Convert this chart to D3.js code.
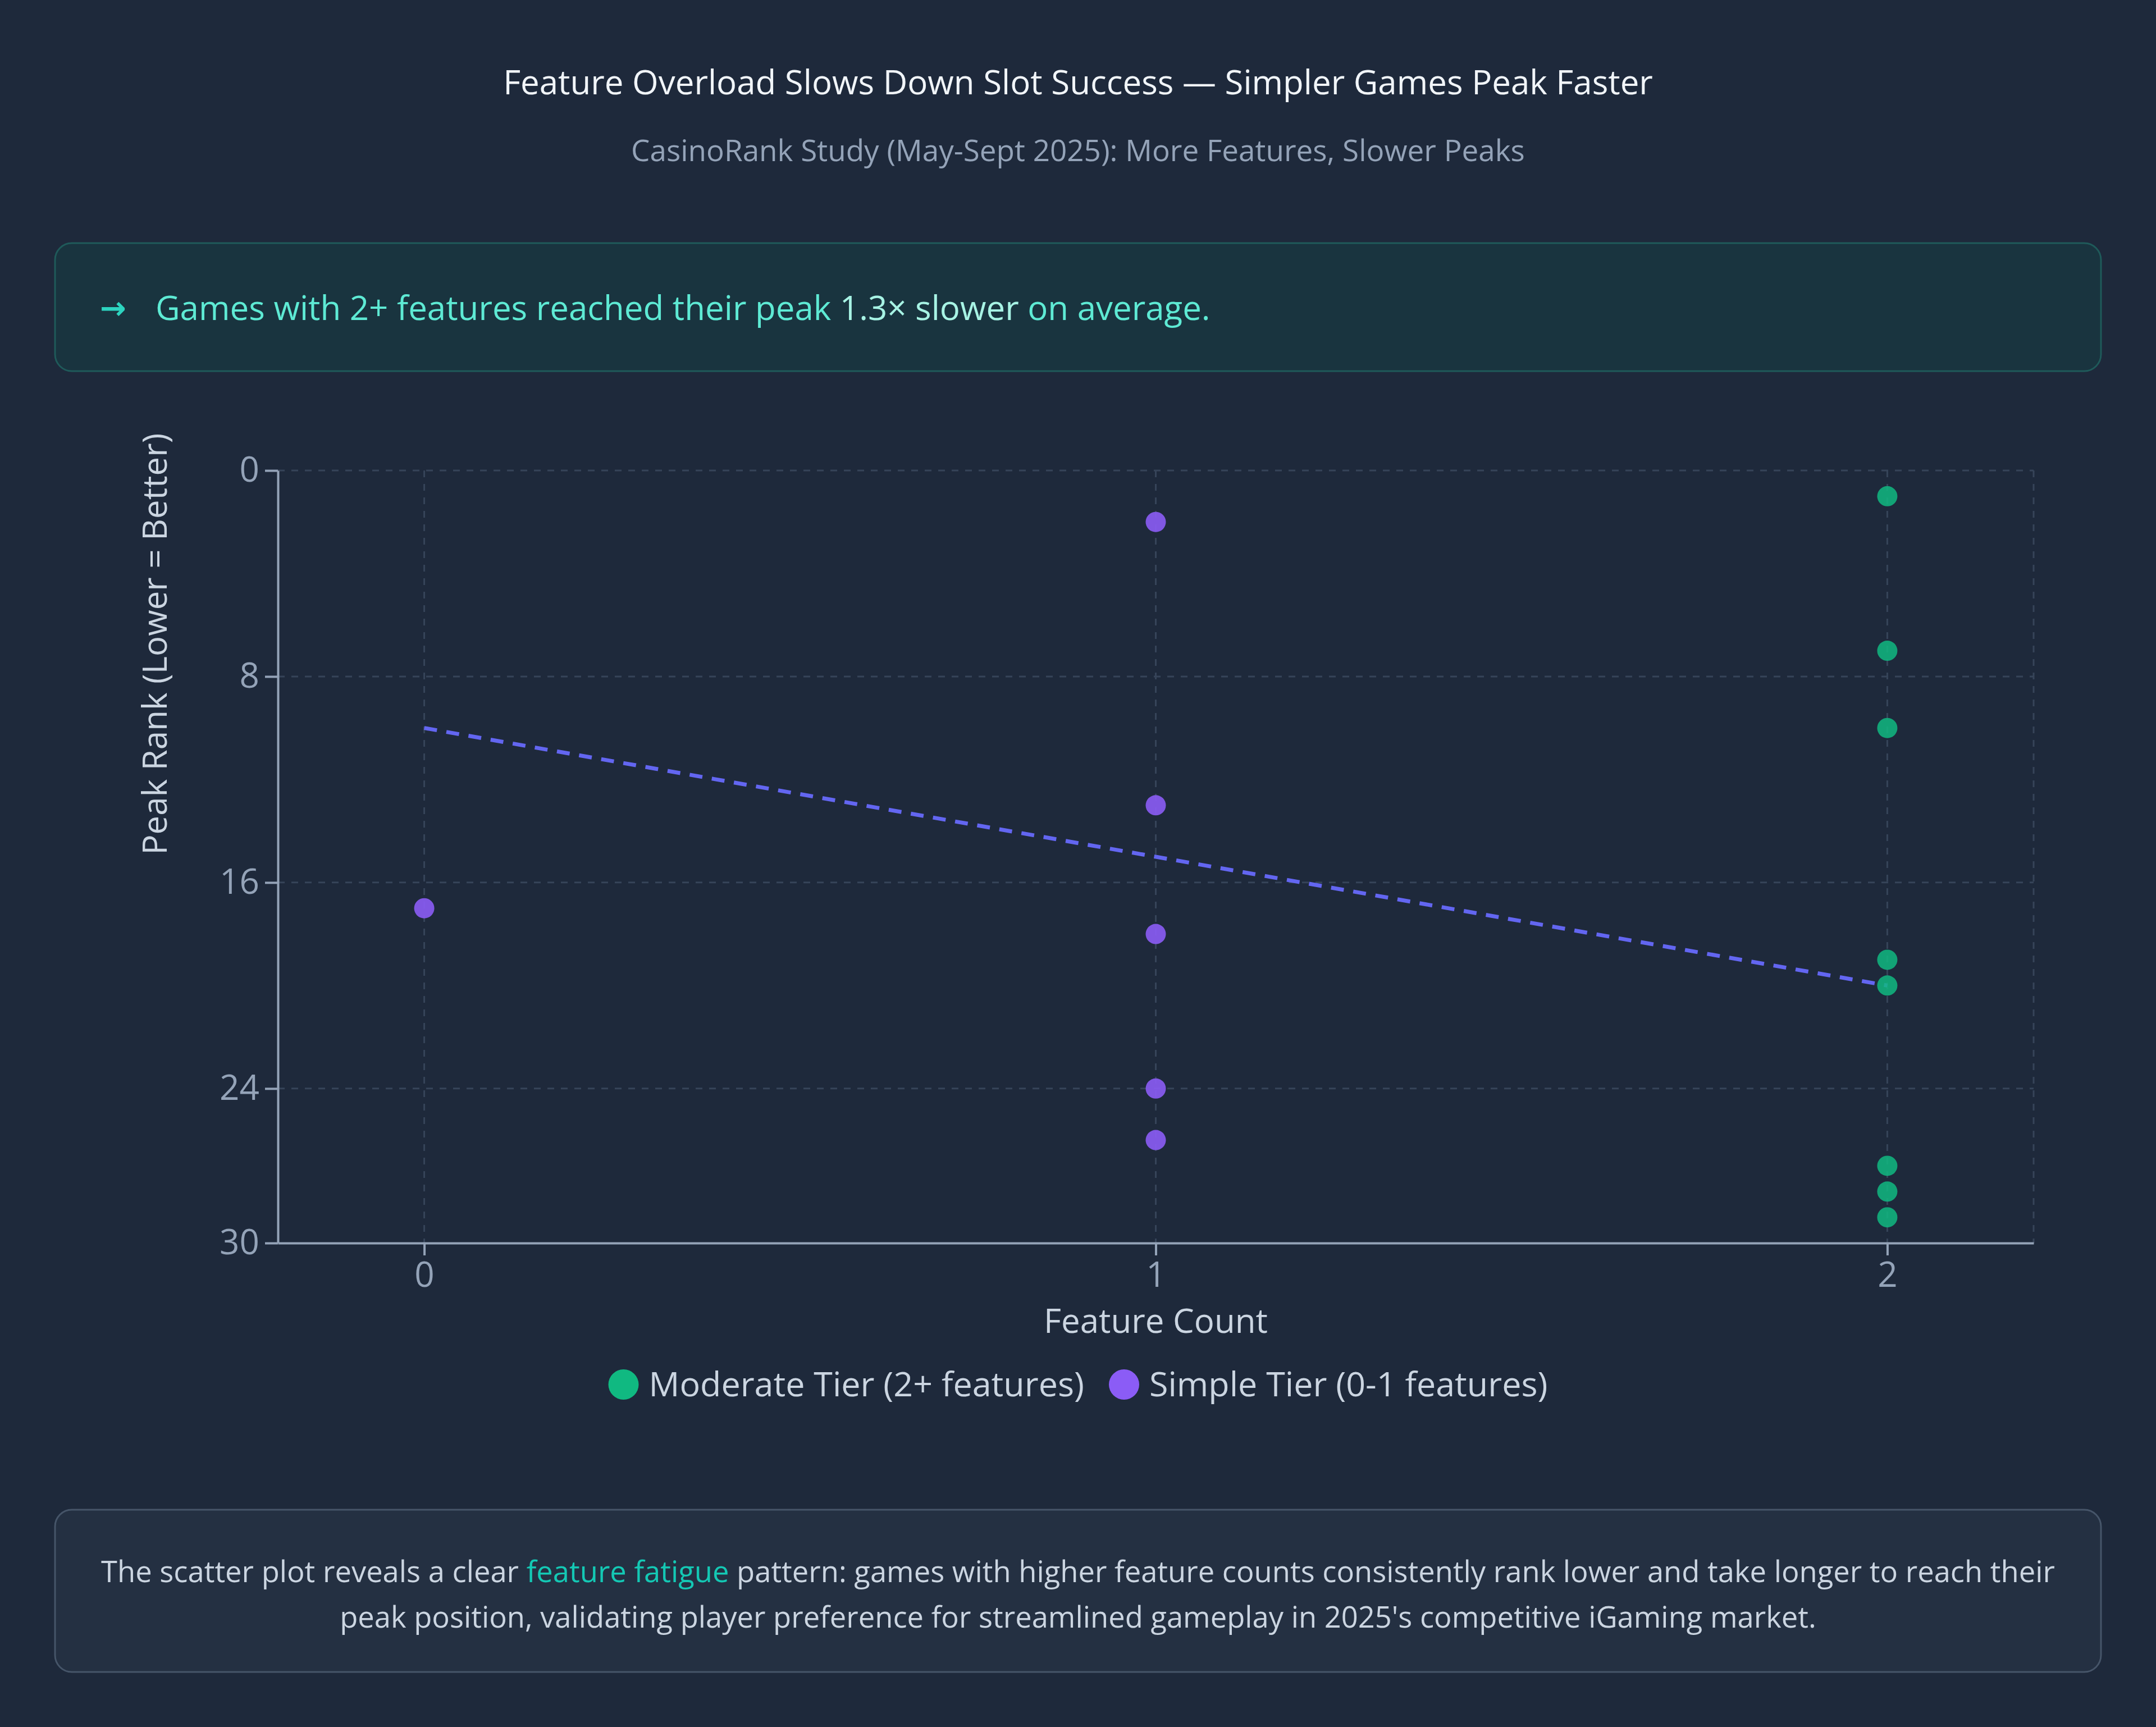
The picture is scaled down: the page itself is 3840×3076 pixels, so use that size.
<!DOCTYPE html>
<html>
<head>
<meta charset="utf-8">
<script src="https://cdn.jsdelivr.net/npm/d3@7"></script>
<style>
  html, body { margin: 0; padding: 0; background: #1e293b; }
  body { width: 3840px; height: 3076px; overflow: hidden; font-family: "Open Sans", "Noto Sans", sans-serif; }
  svg text { font-family: "Open Sans", "Noto Sans", sans-serif; }
</style>
</head>
<body>
<div id="chart"></div>
<script>
// values
var simpleX = [0, 1, 1, 1, 1, 1];
var simpleRank = [17, 2, 13, 18, 24, 26];
var moderateX = [2, 2, 2, 2, 2, 2, 2, 2];
var moderateRank = [1, 7, 10, 19, 20, 27, 28, 29];
var trendX = [0, 2];
var trendRank = [10, 20];
var xTicks = [0, 1, 2];
var yTicks = [0, 8, 16, 24, 30];
var legendNames = ["Moderate Tier (2+ features)", "Simple Tier (0-1 features)"];

var svgWidth = 3840;
var svgHeight = 3076;

var plot = { left: 495, right: 3622, top: 838, bottom: 2214 };

var svg = d3.select("#chart")
  .append("svg")
  .attr("width", svgWidth)
  .attr("height", svgHeight);

// title + subtitle
svg.append("text")
  .attr("x", svgWidth / 2)
  .attr("y", 168)
  .attr("text-anchor", "middle")
  .attr("fill", "#f1f5f9")
  .attr("font-size", 60)
  .attr("font-weight", 500)
  .text("Feature Overload Slows Down Slot Success \u2014 Simpler Games Peak Faster");

svg.append("text")
  .attr("x", svgWidth / 2)
  .attr("y", 287)
  .attr("text-anchor", "middle")
  .attr("fill", "#94a3b8")
  .attr("font-size", 53)
  .text("CasinoRank Study (May-Sept 2025): More Features, Slower Peaks");

// insight box
svg.append("rect")
  .attr("x", 98).attr("y", 433)
  .attr("width", 3644).attr("height", 228)
  .attr("rx", 30)
  .attr("fill", "#19343f")
  .attr("stroke", "#1f5a5a")
  .attr("stroke-width", 3);

svg.append("text")
  .attr("x", 178).attr("y", 568)
  .attr("fill", "#2dd4bf")
  .attr("font-size", 56)
  .attr("font-weight", 700)
  .style("font-family", "'DejaVu Sans', sans-serif")
  .text("\u2192");

var insight = svg.append("text")
  .attr("x", 277).attr("y", 570)
  .attr("fill", "#5eead4")
  .attr("font-size", 60);
insight.append("tspan").text("Games with 2+ features reached their peak ");
insight.append("tspan").attr("fill", "#a7f3e4").text("1.3\u00d7 slower");
insight.append("tspan").text(" on average.");

// scales
var x = d3.scaleLinear().domain([-0.2, 2.2]).range([plot.left, plot.right]);
var y = d3.scaleLinear().domain([0, 30]).range([plot.top, plot.bottom]);

var chartGroup = svg.append("g");

// grid
chartGroup.selectAll(".hgrid")
  .data(yTicks.filter(d => d < 30))
  .enter()
  .append("line")
  .attr("x1", plot.left).attr("x2", plot.right)
  .attr("y1", d => y(d)).attr("y2", d => y(d))
  .attr("stroke", "#364459")
  .attr("stroke-width", 3)
  .attr("stroke-dasharray", "12,12");

chartGroup.selectAll(".vgrid")
  .data(xTicks.concat([2.2]))
  .enter()
  .append("line")
  .attr("x1", d => x(d)).attr("x2", d => x(d))
  .attr("y1", plot.top).attr("y2", plot.bottom)
  .attr("stroke", "#364459")
  .attr("stroke-width", 3)
  .attr("stroke-dasharray", "12,12");

// axes
var bottomAxis = d3.axisBottom(x).tickValues(xTicks).tickFormat(d3.format("d"))
  .tickSize(22).tickSizeOuter(0).tickPadding(12);
var leftAxis = d3.axisLeft(y).tickValues(yTicks).tickFormat(d3.format("d"))
  .tickSize(23).tickSizeOuter(0).tickPadding(10);

var gx = chartGroup.append("g")
  .attr("transform", `translate(0, ${plot.bottom})`)
  .call(bottomAxis);
var gy = chartGroup.append("g")
  .attr("transform", `translate(${plot.left}, 0)`)
  .call(leftAxis);

[gx, gy].forEach(function(g) {
  g.select(".domain").attr("stroke", "#94a3b8").attr("stroke-width", 4);
  g.selectAll(".tick line").attr("stroke", "#94a3b8").attr("stroke-width", 4);
  g.selectAll(".tick text")
    .attr("fill", "#94a3b8")
    .attr("font-size", 62);
});

// trend line
var line = d3.line().x(d => x(d[0])).y(d => y(d[1]));
chartGroup.append("path")
  .datum(d3.zip(trendX, trendRank))
  .attr("d", line)
  .attr("fill", "none")
  .attr("stroke", "#6366f1")
  .attr("stroke-width", 7)
  .attr("stroke-dasharray", "23,17");

// points
chartGroup.selectAll(".simple")
  .data(d3.zip(simpleX, simpleRank))
  .enter()
  .append("circle")
  .attr("cx", d => x(d[0]))
  .attr("cy", d => y(d[1]))
  .attr("r", 18)
  .attr("fill", "#8b5cf6")
  .attr("opacity", 0.9);

chartGroup.selectAll(".moderate")
  .data(d3.zip(moderateX, moderateRank))
  .enter()
  .append("circle")
  .attr("cx", d => x(d[0]))
  .attr("cy", d => y(d[1]))
  .attr("r", 18)
  .attr("fill", "#10b981")
  .attr("opacity", 0.85);

// axis titles
chartGroup.append("text")
  .attr("transform", "translate(276, 1147) rotate(-90)")
  .attr("dy", "0.35em")
  .attr("text-anchor", "middle")
  .attr("fill", "#cbd5e1")
  .attr("font-size", 60)
  .text("Peak Rank (Lower = Better)");

chartGroup.append("text")
  .attr("x", x(1))
  .attr("y", 2353)
  .attr("dy", "0.35em")
  .attr("text-anchor", "middle")
  .attr("fill", "#cbd5e1")
  .attr("font-size", 60)
  .text("Feature Count");

// legend
var legendColors = ["#10b981", "#8b5cf6"];
var legend = svg.append("g");
var cursor = 0;
legendNames.forEach(function(name, i) {
  var item = legend.append("g").attr("transform", `translate(${cursor}, 0)`);
  item.append("circle").attr("cx", 27).attr("cy", 0).attr("r", 27).attr("fill", legendColors[i]);
  var t = item.append("text")
    .attr("x", 72).attr("dy", "0.35em")
    .attr("fill", "#cbd5e1")
    .attr("font-size", 61)
    .text(name);
  cursor += 72 + t.node().getComputedTextLength() + 44;
});
cursor -= 44;
legend.attr("transform", `translate(${svgWidth / 2 - cursor / 2}, 2466)`);

// footer box
svg.append("rect")
  .attr("x", 98).attr("y", 2689)
  .attr("width", 3644).attr("height", 289)
  .attr("rx", 30)
  .attr("fill", "#243042")
  .attr("stroke", "#465569")
  .attr("stroke-width", 3);

var foot1 = svg.append("text")
  .attr("x", svgWidth / 2).attr("y", 2818)
  .attr("text-anchor", "middle")
  .attr("fill", "#cbd5e1")
  .attr("font-size", 52.5);
foot1.append("tspan").text("The scatter plot reveals a clear ");
foot1.append("tspan").attr("fill", "#14c8b4").text("feature fatigue");
foot1.append("tspan").text(" pattern: games with higher feature counts consistently rank lower and take longer to reach their");

svg.append("text")
  .attr("x", svgWidth / 2).attr("y", 2899)
  .attr("text-anchor", "middle")
  .attr("fill", "#cbd5e1")
  .attr("font-size", 52.5)
  .text("peak position, validating player preference for streamlined gameplay in 2025's competitive iGaming market.");
</script>
</body>
</html>
